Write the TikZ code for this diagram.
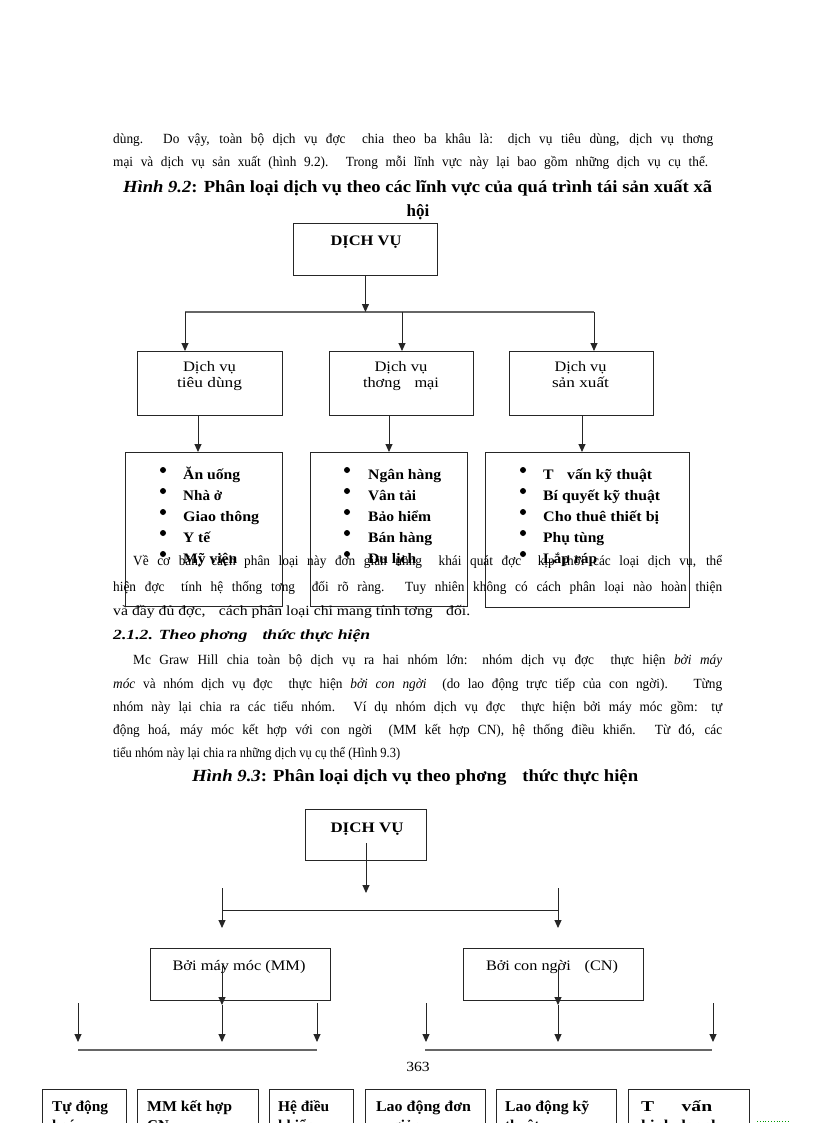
\documentclass[tikz,border=0pt]{standalone}
\usepackage{fontspec}
\setmainfont{Liberation Serif}
\usepackage{graphicx}
\usetikzlibrary{arrows.meta}
\newsavebox\fitbox
\newcommand\fitw[2]{\sbox\fitbox{#2}\pgfmathsetmacro\fsx{#1/\the\wd\fitbox}\scalebox{\fsx}[1]{\usebox\fitbox}}
\def\bodyscale{0.95}
\newcommand\jw[2]{\sbox\fitbox{#2}\pgfmathsetmacro\jsx{min(\bodyscale,#1/\the\wd\fitbox)}\pgfmathsetmacro\jww{#1/\jsx}\scalebox{\jsx}[1]{\hbox to \jww pt{#2}}}
\newcommand\gp{\hspace{0.6em}}
\newcommand\bodyf{\fontsize{14}{16}\selectfont}
\newcommand\ttlf{\fontsize{17}{19}\selectfont\bfseries}
\newcommand\itemf{\fontsize{14.5}{16}\selectfont\bfseries}
\newcommand\lblf{\fontsize{14.5}{16}\selectfont}
\newcommand\dvf{\fontsize{14.5}{16}\selectfont\bfseries}
\newcommand\botf{\fontsize{15}{17}\selectfont\bfseries}
\begin{document}
\begin{tikzpicture}[x=1pt,y=-1pt,
  box/.style={draw=black!85, line width=0.9pt, inner sep=0pt, anchor=north west},
  conn/.style={draw=black!85, line width=0.9pt},
  hbar/.style={draw=black!60, line width=1.8pt},
  arr/.style={conn, -{Triangle[width=7pt,length=8pt]}},
  txt/.style={inner sep=0pt, anchor=base west},
  ctxt/.style={inner sep=0pt, anchor=base},
  bul/.style={circle, fill=black, inner sep=0pt, minimum size=6pt}]
\useasboundingbox (0,0) rectangle (816,1123);
\clip (0,0) rectangle (816,1123);
\fill[white] (0,0) rectangle (816,1123);

% ---------- paragraph 1 and title ----------
\node[txt] (p1a) at (113,144) {\bodyf\jw{600}{dùng. Do vậy, toàn bộ dịch vụ đợc\gp{} chia theo ba khâu là: dịch vụ tiêu dùng, dịch vụ thơng}};
\node[txt] (p1b) at (113,167) {\bodyf\jw{595}{mại và dịch vụ sản xuất (hình 9.2). Trong mỗi lĩnh vực này lại bao gồm những dịch vụ cụ thể.}};
\node[txt] (t1a) at (123,192.5) {\ttlf\fitw{589}{\textit{Hình 9.2}: Phân loại dịch vụ theo các lĩnh vực của quá trình tái sản xuất xã}};
\node[ctxt] (t1b) at (418,216.5) {\ttlf hội};

% ---------- diagram 1 ----------
\node[box, minimum width=144pt, minimum height=52pt] (d1) at (293,223) {};
\node[ctxt] (d1t) at (366,245) {\dvf\fitw{71}{DỊCH VỤ}};
\coordinate (h1l) at (185,312);
\coordinate (h1m) at (402,312);
\coordinate (h1r) at (594,312);
\draw[hbar] (h1l) -- (h1r);
\draw[arr] (d1.south) -- (d1.south |- h1l);

\node[box, minimum width=145pt, minimum height=64pt] (a1) at (137,351) {};
\node[box, minimum width=144pt, minimum height=64pt] (a2) at (329,351) {};
\node[box, minimum width=144pt, minimum height=64pt] (a3) at (509,351) {};
\draw[arr] (h1l) -- (h1l |- a1.north);
\draw[arr] (h1m) -- (h1m |- a2.north);
\draw[arr] (h1r) -- (h1r |- a3.north);

\node[ctxt] (a1t) at (209.5,371) {\lblf\fitw{53}{Dịch vụ}};
\node[ctxt] (a1u) at (209.5,387) {\lblf\fitw{65}{tiêu dùng}};
\node[ctxt] (a2t) at (401,371) {\lblf\fitw{53}{Dịch vụ}};
\node[ctxt] (a2u) at (401,387) {\lblf\fitw{76}{thơng\gp{} mại}};
\node[ctxt] (a3t) at (580.5,371) {\lblf\fitw{52}{Dịch vụ}};
\node[ctxt] (a3u) at (580.5,387) {\lblf\fitw{57}{sản xuất}};

\node[box, minimum width=157pt, minimum height=154pt] (c1) at (125,452) {};
\node[box, minimum width=157pt, minimum height=154pt] (c2) at (310,452) {};
\node[box, minimum width=204pt, minimum height=155pt] (c3) at (485,452) {};
\coordinate (q1) at (198,0);
\coordinate (q2) at (389,0);
\coordinate (q3) at (582,0);
\draw[arr] (q1 |- a1.south) -- (q1 |- c1.north);
\draw[arr] (q2 |- a2.south) -- (q2 |- c2.north);
\draw[arr] (q3 |- a3.south) -- (q3 |- c3.north);

% bullet lists
\foreach \i/\t/\w in {0/Ăn uống/57, 1/Nhà ở/39, 2/Giao thông/76, 3/Y tế/27, 4/Mỹ viện/54}{
  \node[bul] (b1\i) at (163,470+21*\i) {};
  \node[txt] (i1\i) at (183,479+21*\i) {\itemf\fitw{\w}{\t}};
}
\foreach \i/\t/\w in {0/Ngân hàng/73, 1/Vân tải/48, 2/Bảo hiểm/63, 3/Bán hàng/64, 4/Du lịch/48}{
  \node[bul] (b2\i) at (347,470+21*\i) {};
  \node[txt] (i2\i) at (368,479+21*\i) {\itemf\fitw{\w}{\t}};
}
\foreach \i/\t/\w in {0/T\gp{} vấn kỹ thuật/109, 1/Bí quyết kỹ thuật/117, 2/Cho thuê thiết bị/116, 3/Phụ tùng/61, 4/Lắp ráp/54}{
  \node[bul] (b3\i) at (523,470+21*\i) {};
  \node[txt] (i3\i) at (543,479+21*\i) {\itemf\fitw{\w}{\t}};
}

% ---------- paragraph 2 ----------
\node[txt] (p2a) at (133,565) {\bodyf\jw{589}{Về cơ bản, cách phân loại này đơn giản nhng\gp{} khái quát đợc\gp{} kịp thời các loại dịch vụ, thể}};
\node[txt] (p2b) at (113,591) {\bodyf\jw{609}{hiện đợc\gp{} tính hệ thống tơng\gp{} đối rõ ràng. Tuy nhiên không có cách phân loại nào hoàn thiện}};
\node[txt] (p2c) at (113,615) {\bodyf\fitw{357}{và đầy đủ đợc,\gp{} cách phân loại chỉ mang tính tơng\gp{} đối.}};
\node[txt] (hd) at (113,639) {\bodyf\bfseries\itshape\fitw{257}{2.1.2. Theo phơng\gp{} thức thực hiện}};

% ---------- paragraph 3 ----------
\node[txt] (p3a) at (133,664) {\bodyf\jw{589}{Mc Graw Hill chia toàn bộ dịch vụ ra hai nhóm lớn: nhóm dịch vụ đợc\gp{} thực hiện \textit{bởi máy}}};
\node[txt] (p3b) at (113,688) {\bodyf\jw{609}{\textit{móc} và nhóm dịch vụ đợc\gp{} thực hiện \textit{bởi con ngời}\gp{} (do lao động trực tiếp của con ngời).\gp{} Từng}};
\node[txt] (p3c) at (113,711) {\bodyf\jw{609}{nhóm này lại chia ra các tiểu nhóm. Ví dụ nhóm dịch vụ đợc\gp{} thực hiện bởi máy móc gồm: tự}};
\node[txt] (p3d) at (113,734) {\bodyf\jw{609}{động hoá, máy móc kết hợp với con ngời\gp{} (MM kết hợp CN), hệ thống điều khiển. Từ đó, các}};
\node[txt] (p3e) at (113,757) {\bodyf\fitw{287}{tiểu nhóm này lại chia ra những dịch vụ cụ thể (Hình 9.3)}};
\node[txt] (t2) at (192,781) {\ttlf\fitw{446}{\textit{Hình 9.3}: Phân loại dịch vụ theo phơng\gp{} thức thực hiện}};

% ---------- diagram 2 ----------
\node[box, minimum width=121pt, minimum height=51pt] (e0) at (305,809) {};
\node[ctxt] (e0t) at (367,832) {\dvf\fitw{73}{DỊCH VỤ}};
\coordinate (s0) at (366,843);
\coordinate (s1) at (366,893);
\draw[arr] (s0) -- (s1);

\coordinate (vl) at (222,888);
\coordinate (vr) at (558,888);
\coordinate (hl) at (222,910);
\coordinate (hr) at (558,910);
\draw[conn] (hl) -- (hr);

\node[box, minimum width=180pt, minimum height=52pt] (m1) at (150,948) {};
\node[box, minimum width=180pt, minimum height=52pt] (m2) at (463,948) {};
\draw[arr] (vl) -- ([yshift=20pt]vl |- m1.north);
\draw[arr] (vr) -- ([yshift=20pt]vr |- m2.north);
\node[ctxt] (m1t) at (239,970) {\lblf\fitw{133}{Bởi máy móc (MM)}};
\node[ctxt] (m2t) at (552,970) {\lblf\fitw{132}{Bởi con ngời\gp{} (CN)}};

\coordinate (k1) at (78,1003);
\coordinate (k2) at (222,1005);
\coordinate (k3) at (317,1003);
\coordinate (k4) at (426,1003);
\coordinate (k5) at (558,1005);
\coordinate (k6) at (713,1003);
\coordinate (j2) at (222,966);
\coordinate (j5) at (558,966);
\draw[arr] (j2) -- (k2);
\draw[arr] (j5) -- (k5);
\foreach \k in {k1,k2,k3,k4,k5,k6}{
  \draw[arr] (\k) -- (\k |- 0,1042);
}
\coordinate (g1) at (78,1050);
\coordinate (g2) at (317,1050);
\coordinate (g3) at (425,1050);
\coordinate (g4) at (712,1050);
\draw[hbar] (g1) -- (g2);
\draw[hbar] (g3) -- (g4);
\node[ctxt] (pg) at (418,1071) {\bodyf\fitw{23.5}{363}};

\node[box, minimum width=84pt, minimum height=60pt] (f1) at (42,1089) {};
\node[box, minimum width=121pt, minimum height=60pt] (f2) at (137,1089) {};
\node[box, minimum width=84pt, minimum height=60pt] (f3) at (269,1089) {};
\node[box, minimum width=120pt, minimum height=60pt] (f4) at (365,1089) {};
\node[box, minimum width=120pt, minimum height=60pt] (f5) at (496,1089) {};
\node[box, minimum width=121pt, minimum height=60pt] (f6) at (628,1089) {};

\node[txt] (f1a) at (52,1111) {\botf\fitw{56}{Tự động}};
\node[txt] (f1b) at (52,1130) {\botf hoá};
\node[txt] (f2a) at (147,1111) {\botf\fitw{85}{MM kết hợp}};
\node[txt] (f2b) at (147,1130) {\botf CN};
\node[txt] (f3a) at (278,1111) {\botf\fitw{51}{Hệ điều}};
\node[txt] (f3b) at (278,1130) {\botf khiển};
\node[ctxt] (f4a) at (423.5,1111) {\botf\fitw{95}{Lao động đơn}};
\node[ctxt] (f4b) at (407,1130) {\botf giản};
\node[txt] (f5a) at (505,1111) {\botf\fitw{84}{Lao động kỹ}};
\node[txt] (f5b) at (505,1130) {\botf thuật};
\node[txt] (f6a) at (641,1111) {\botf\fitw{71}{T\hspace{1.4em}vấn}};
\node[txt] (f6b) at (641,1130) {\botf\fitw{79}{kinh doanh}};

\coordinate (gr1) at (757,1121);
\coordinate (gr2) at (790,1121);
\draw[green!60!black, line width=0.8pt, dotted] (gr1) -- (gr2);
\end{tikzpicture}
\end{document}
